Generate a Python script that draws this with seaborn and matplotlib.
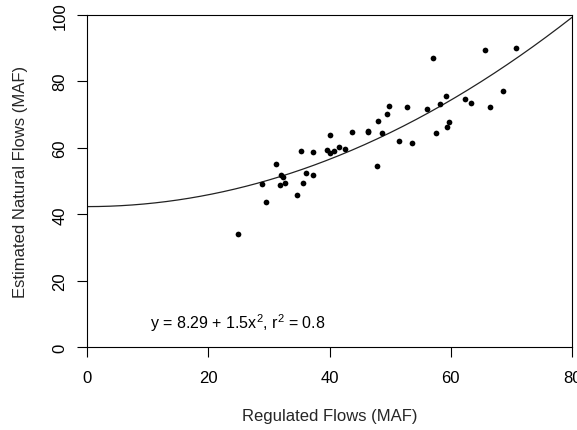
import numpy as np
import pandas as pd
import matplotlib
matplotlib.use("Agg")
import matplotlib.pyplot as plt
import seaborn as sns

# ---- data ----
regulated = [24.9, 29.56, 28.9, 31.1, 31.92, 32.32, 31.82, 32.7, 34.72, 35.28,
             35.61, 36.11, 37.2, 37.26, 39.67, 40.12, 40.16, 40.82, 41.6, 42.59,
             43.74, 46.33, 46.43, 47.86, 48.08, 48.74, 49.56, 49.84, 51.41, 52.78,
             53.6, 56.03, 57.13, 57.56, 58.25, 59.29, 59.36, 59.79, 62.37, 63.41,
             65.59, 66.55, 68.69, 70.78]
natural = [34.07, 43.6, 49.01, 55.2, 51.89, 51.11, 48.8, 49.49, 45.79, 59.11,
           49.31, 52.41, 51.71, 58.63, 59.23, 63.92, 58.42, 59.02, 60.13, 59.62,
           64.73, 64.94, 64.64, 54.6, 67.89, 64.37, 70.05, 72.49, 62.12, 72.16,
           61.37, 71.65, 87.07, 64.43, 73.06, 75.62, 66.3, 67.65, 74.56, 73.39,
           89.39, 72.16, 77.15, 90.08]
fit_intercept = 42.3
fit_quad = 0.00889
x_ticks = [0, 20, 40, 60, 80]
y_ticks = [0, 20, 40, 60, 80, 100]
label_text = r"y = 8.29 + 1.5x$^{2}$, r$^{2}$ = 0.8"

df = pd.DataFrame({"Regulated": regulated, "Natural": natural})
xgrid = np.linspace(0, 80, 300)
curve = pd.DataFrame({"x": xgrid, "y": fit_intercept + fit_quad * xgrid ** 2})

sns.set_style("white")
plt.rcParams["font.family"] = ["Liberation Sans", "DejaVu Sans"]
plt.rcParams["mathtext.fontset"] = "custom"
plt.rcParams["mathtext.rm"] = "Liberation Sans"
plt.rcParams["mathtext.it"] = "Liberation Sans"
plt.rcParams["mathtext.default"] = "regular"

W, H = 577, 431
fig = plt.figure(figsize=(W / 100, H / 100), dpi=100)
left, right, top, bottom = 87, 572, 15.7, 348.3
ax = fig.add_axes([left / W, 1 - bottom / H, (right - left) / W, (bottom - top) / H])

sns.scatterplot(data=df, x="Regulated", y="Natural", ax=ax, color="black",
                s=17, linewidth=0, legend=False, zorder=3)
sns.lineplot(data=curve, x="x", y="y", ax=ax, color="#222222", linewidth=0.9,
             zorder=2)

ax.set_xlim(0, 80)
ax.set_ylim(0, 100)
ax.set_xticks(x_ticks)
ax.set_yticks(y_ticks)
ax.set_xticklabels([str(t) for t in x_ticks])
ax.set_yticklabels([str(t) for t in y_ticks], rotation=90, va="center")

for s in ax.spines.values():
    s.set_visible(True)
    s.set_color("black")
    s.set_linewidth(0.8)

ax.tick_params(axis="both", which="major", direction="out", length=7.2,
               width=0.8, color="black", labelsize=12, labelcolor="black",
               bottom=True, left=True)
ax.tick_params(axis="x", pad=9)
ax.tick_params(axis="y", pad=7)

ax.set_xlabel("Regulated Flows (MAF)", fontsize=12, va="center")
ax.set_ylabel("Estimated Natural Flows (MAF)", fontsize=12, va="center")
ax.xaxis.set_label_coords(0.5, -(417 - bottom) / (bottom - top))
ax.yaxis.set_label_coords((21 - left) / (right - left), 0.5)

ax.text(24.9, 7.6, label_text, fontsize=11.5, ha="center", va="center",
        color="black")

fig.savefig("out.png", dpi=100)
